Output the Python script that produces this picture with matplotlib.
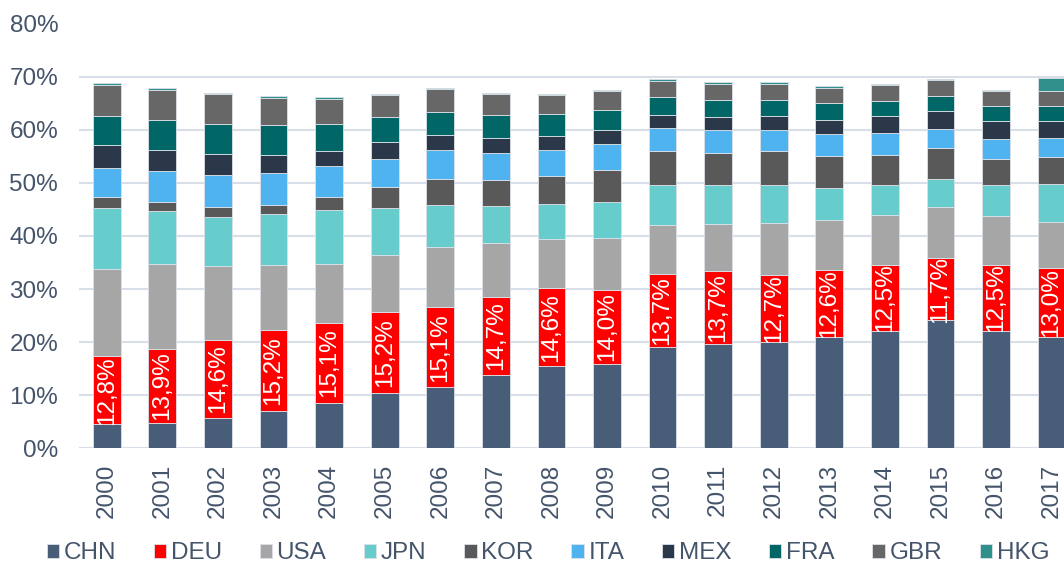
import numpy as np
import matplotlib.pyplot as plt

years = [str(y) for y in range(2000, 2018)]
countries = ['CHN', 'DEU', 'USA', 'JPN', 'KOR', 'ITA', 'MEX', 'FRA', 'GBR', 'HKG']

chn = [4.5, 4.8, 5.8, 7.0, 8.5, 10.4, 11.5, 13.8, 15.5, 15.9, 19.1, 19.6, 20.0, 21.0, 22.1, 24.1, 22.1, 21.0]
deu = [12.8, 13.9, 14.6, 15.2, 15.1, 15.2, 15.1, 14.7, 14.6, 14.0, 13.7, 13.7, 12.7, 12.6, 12.5, 11.7, 12.5, 13.0]
usa = [16.5, 16.1, 13.9, 12.3, 11.2, 10.8, 11.3, 10.1, 9.3, 9.7, 9.2, 8.9, 9.8, 9.4, 9.3, 9.6, 9.1, 8.7]
jpn = [11.5, 9.8, 9.3, 9.7, 10.0, 8.9, 8.0, 7.0, 6.7, 6.7, 7.5, 7.3, 7.0, 6.0, 5.6, 5.3, 5.8, 7.1]
kor = [2.0, 1.75, 1.8, 1.6, 2.5, 3.9, 4.9, 4.9, 5.1, 6.1, 6.5, 6.2, 6.5, 6.0, 5.8, 5.8, 5.0, 5.0]
ita = [5.5, 5.8, 6.0, 6.1, 5.8, 5.3, 5.3, 5.2, 5.0, 5.0, 4.3, 4.2, 3.9, 4.2, 4.1, 3.6, 3.7, 3.6]
mex = [4.3, 4.1, 4.1, 3.4, 2.9, 3.2, 2.9, 2.7, 2.7, 2.5, 2.5, 2.4, 2.6, 2.6, 3.1, 3.4, 3.4, 3.2]
fra = [5.4, 5.6, 5.6, 5.5, 5.1, 4.6, 4.4, 4.4, 4.1, 3.8, 3.4, 3.3, 3.1, 3.2, 2.9, 2.9, 2.9, 2.9]
gbr = [5.9, 5.7, 5.6, 5.2, 4.7, 4.2, 4.2, 3.9, 3.5, 3.5, 3.0, 3.1, 3.1, 2.9, 3.0, 2.9, 2.7, 2.8]
hkg = [0.4, 0.3, 0.3, 0.3, 0.3, 0.3, 0.3, 0.3, 0.3, 0.3, 0.3, 0.3, 0.3, 0.3, 0.3, 0.3, 0.3, 2.4]

series = [chn, deu, usa, jpn, kor, ita, mex, fra, gbr, hkg]
colors = ['#475D78', '#FF0000', '#A6A6A6', '#66CCCC', '#595959',
          '#4EB3EE', '#2B3849', '#006666', '#676767', '#2F8F8A']

txt = '#44546A'
plt.rcParams['font.family'] = ['Liberation Sans', 'DejaVu Sans']

fig = plt.figure(figsize=(10.64, 5.67), dpi=100)
ax = fig.add_axes([79 / 1064, 118.7 / 567, 1000.4 / 1064, 424.8 / 567])

x = np.arange(len(years))
bottom = np.zeros(len(years))
for name, vals, col in zip(countries, series, colors):
    bars = ax.bar(x, vals, 0.5, bottom=bottom, color=col, label=name,
                  edgecolor='#DCE1E8', linewidth=0.6, zorder=3)
    if name == 'DEU':
        labels = [f'{v:.1f}%'.replace('.', ',') for v in vals]
        ax.bar_label(bars, labels=labels, label_type='center', rotation=90,
                     color='white', fontsize=17.5)
    bottom += np.array(vals)

ax.set_xlim(-0.5, len(years) - 0.5)
ax.set_ylim(0, 80)
ax.set_yticks(range(0, 81, 10))
ax.set_yticklabels([f'{t}%' for t in range(0, 81, 10)])
ax.set_xticks(x)
ax.set_xticklabels(years, rotation=90)
ax.tick_params(axis='both', length=0, labelsize=17.5, labelcolor=txt)
ax.tick_params(axis='y', pad=15)
ax.tick_params(axis='x', pad=11)
ax.grid(axis='y', color='#D9DFE8', linewidth=1.5, zorder=0)
for s in ax.spines.values():
    s.set_visible(False)

fig.legend(loc='center', bbox_to_anchor=(0.515, 0.024), ncol=10, frameon=False,
           fontsize=17.5, handlelength=0.5, handleheight=0.5, handletextpad=0.2,
           columnspacing=1.55, labelcolor=txt)

fig.savefig('out.png', dpi=100)
